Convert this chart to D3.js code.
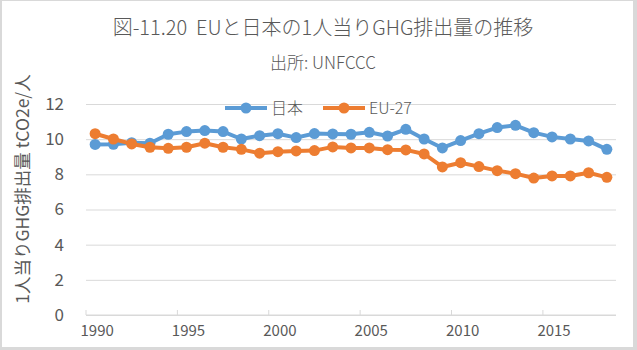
<!DOCTYPE html>
<html>
<head>
<meta charset="utf-8">
<script src="https://cdn.jsdelivr.net/npm/d3@7"></script>
<style>
  body { margin: 0; background: #d9d9d9; }
  svg { display: block; }
  text { font-family: "Noto Sans CJK JP", "Noto Sans", sans-serif; fill: #595959; }
</style>
</head>
<body>
<svg id="chart"></svg>
<script>
// データ
const years = d3.range(1990, 2019);
const japan = [9.7, 9.71, 9.8, 9.77, 10.28, 10.43, 10.49, 10.43, 10.01, 10.2,
               10.31, 10.09, 10.32, 10.3, 10.28, 10.39, 10.18, 10.56, 10.01, 9.5,
               9.92, 10.31, 10.66, 10.79, 10.37, 10.13, 10.01, 9.9, 9.42];
const eu27 = [10.31, 10.01, 9.73, 9.54, 9.48, 9.54, 9.77, 9.54, 9.42, 9.2,
              9.29, 9.33, 9.35, 9.56, 9.5, 9.5, 9.4, 9.39, 9.16, 8.42,
              8.66, 8.44, 8.21, 8.04, 7.79, 7.91, 7.91, 8.09, 7.83];
const yTicks = [0, 2, 4, 6, 8, 10, 12];
const xLabelYears = [1990, 1995, 2000, 2005, 2010, 2015];
const seriesNames = ['日本', 'EU-27'];
const colors = ['#5b9bd5', '#ed7d31'];

const width = 637, height = 350;
const margin = { top: 104, right: 21, bottom: 35, left: 86 };
const innerWidth = width - margin.left - margin.right;
const innerHeight = height - margin.top - margin.bottom;

const svg = d3.select('#chart')
    .attr('width', width)
    .attr('height', height);

// 白い背景 (枠線はbodyの灰色)
svg.append('rect')
    .attr('x', 2).attr('y', 1)
    .attr('width', width - 6).attr('height', height - 4)
    .attr('fill', '#fff');

const xscale = d3.scaleBand()
    .domain(years)
    .range([0, innerWidth]);

const yscale = d3.scaleLinear()
    .domain([0, 12])
    .range([innerHeight, 0]);

const chart = svg.append('g')
    .attr('transform', `translate(${margin.left}, ${margin.top})`);

// グリッド線と y 軸
const yaxis = chart.append('g')
    .call(d3.axisLeft(yscale).tickValues(yTicks).tickSize(-innerWidth).tickPadding(22));
yaxis.attr('font-family', null).attr('font-size', null);
yaxis.select('.domain').remove();
yaxis.selectAll('.tick line').attr('stroke', '#d9d9d9');
yaxis.selectAll('.tick text').style('font-size', '17px').attr('fill', '#595959');

// x 軸
const xaxisGroup = chart.append('g')
    .attr('transform', `translate(0, ${innerHeight})`);
xaxisGroup.append('line')
    .attr('x1', 0).attr('x2', innerWidth)
    .attr('stroke', '#d9d9d9');
// 5年ごとの目盛り (カテゴリ境界)
xaxisGroup.selectAll('.xtick')
    .data(xLabelYears)
    .enter()
    .append('line')
    .attr('x1', d => xscale(d)).attr('x2', d => xscale(d))
    .attr('y1', 0).attr('y2', -5)
    .attr('stroke', '#d9d9d9');
xaxisGroup.selectAll('.xlabel')
    .data(xLabelYears)
    .enter()
    .append('text')
    .attr('x', d => xscale(d) + xscale.bandwidth() / 2 + 2)
    .attr('y', 21)
    .attr('text-anchor', 'middle')
    .style('font-size', '15px')
    .text(d => d);

// 線とマーカー
const line = d3.line()
    .x((d, i) => xscale(years[i]) + xscale.bandwidth() / 2)
    .y(d => yscale(d));

[japan, eu27].forEach((values, k) => {
    chart.append('path')
        .datum(values)
        .attr('d', line)
        .attr('stroke', colors[k])
        .attr('stroke-width', 4)
        .attr('fill', 'none')
        .attr('stroke-linejoin', 'round');
    chart.selectAll('.pt' + k)
        .data(values)
        .enter()
        .append('circle')
        .attr('cx', (d, i) => xscale(years[i]) + xscale.bandwidth() / 2)
        .attr('cy', d => yscale(d))
        .attr('r', 5.5)
        .attr('fill', colors[k]);
});

// タイトル
svg.append('text')
    .attr('x', 323).attr('y', 35)
    .attr('text-anchor', 'middle')
    .style('font-size', '20px')
    .style('font-weight', 300)
    .text('図-11.20\u00a0 EUと日本の1人当りGHG排出量の推移');
svg.append('text')
    .attr('x', 323).attr('y', 69)
    .attr('text-anchor', 'middle')
    .style('font-size', '17px')
    .style('font-weight', 300)
    .text('出所: UNFCCC');

// 凡例
const legendX = [225, 323];
seriesNames.forEach((name, k) => {
    const g = svg.append('g').attr('transform', `translate(${legendX[k]}, 108)`);
    g.append('line')
        .attr('x1', 0).attr('x2', 42)
        .attr('stroke', colors[k]).attr('stroke-width', 4);
    g.append('circle').attr('cx', 21).attr('r', 5.5).attr('fill', colors[k]);
    g.append('text')
        .attr('x', 46).attr('y', 6)
        .style('font-size', '16px')
        .style('font-weight', 300)
        .text(name);
});

// y 軸タイトル
svg.append('text')
    .attr('transform', 'translate(29, 189) rotate(-90)')
    .attr('text-anchor', 'middle')
    .style('font-size', '17.5px')
    .text('1人当りGHG排出量 tCO2e/人');
</script>
</body>
</html>
